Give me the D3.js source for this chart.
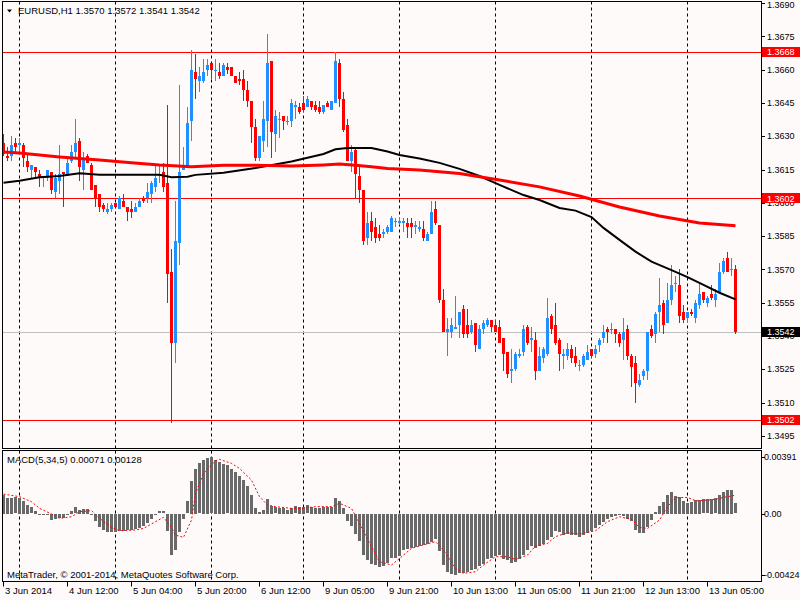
<!DOCTYPE html>
<html>
<head>
<meta charset="utf-8">
<script src="https://cdn.jsdelivr.net/npm/d3@7"></script>
<style>
  body { margin: 0; background: #fffafa; }
  svg { display: block; }
  text { font-family: "Liberation Sans", Arial, sans-serif; font-size: 9.5px; fill: #000; }
  text.num { font-size: 9px; }
</style>
</head>
<body>
<div id="chart"></div>
<script>
// EURUSD H1 candles (first bar = 3 Jun 2014 20:00)
const symbol = "EURUSD,H1";
const open = [
  1.3627,1.3621,1.3621,1.3627,1.3626,1.3626,1.3619,1.3615,1.3616,1.3613,1.3611,1.3611,1.3614,1.3605,1.3610,1.3614,
  1.3612,1.3619,1.3623,1.3628,1.3615,1.3621,1.3617,1.3608,1.3604,1.3599,1.3596,1.3597,1.3600,1.3597,1.3601,1.3598,
  1.3597,1.3596,1.3598,1.3602,1.3602,1.3604,1.3607,1.3612,1.3614,1.3609,1.3569,1.3537,1.3582,1.3615,1.3617,1.3637,
  1.3659,1.3655,1.3655,1.3660,1.3663,1.3660,1.3659,1.3657,1.3661,1.3661,1.3657,1.3656,1.3656,1.3651,1.3646,1.3634,
  1.3620,1.3628,1.3637,1.3664,1.3631,1.3638,1.3639,1.3637,1.3637,1.3643,1.3643,1.3645,1.3643,1.3646,1.3644,1.3643,
  1.3641,1.3645,1.3642,1.3645,1.3663,1.3647,1.3635,1.3619,1.3624,1.3612,1.3606,1.3584,1.3592,1.3589,1.3586,1.3586,
  1.3587,1.3587,1.3592,1.3591,1.3591,1.3591,1.3591,1.3589,1.3588,1.3588,1.3583,1.3586,1.3597,1.3590,1.3556,1.3542,
  1.3542,1.3543,1.3545,1.3552,1.3545,1.3542,1.3546,1.3534,1.3543,1.3545,1.3547,1.3545,1.3544,1.3539,1.3533,1.3524,
  1.3525,1.3531,1.3533,1.3544,1.3538,1.3538,1.3524,1.3530,1.3532,1.3549,1.3545,1.3538,1.3531,1.3531,1.3534,1.3531,
  1.3527,1.3527,1.3529,1.3534,1.3532,1.3536,1.3539,1.3543,1.3543,1.3543,1.3541,1.3538,1.3543,1.3531,1.3528,1.3518,
  1.3522,1.3524,1.3543,1.3541,1.3551,1.3555,1.3546,1.3556,1.3564,1.3563,1.3551,1.3548,1.3551,1.3548,1.3554,1.3560,
  1.3555,1.3559,1.3556,1.3560,1.3569,1.3575,1.3570,1.3570
];
const high = [
  1.3631,1.3625,1.3630,1.3629,1.3629,1.3627,1.3622,1.3617,1.3616,1.3615,1.3612,1.3615,1.3614,1.3613,1.3626,1.3614,
  1.3621,1.3626,1.3638,1.3629,1.3623,1.3622,1.3618,1.3608,1.3604,1.3600,1.3600,1.3600,1.3600,1.3603,1.3604,1.3598,
  1.3601,1.3600,1.3602,1.3603,1.3609,1.3610,1.3617,1.3617,1.3618,1.3644,1.3579,1.3601,1.3653,1.3625,1.3643,1.3669,
  1.3667,1.3661,1.3665,1.3665,1.3663,1.3665,1.3663,1.3663,1.3663,1.3661,1.3657,1.3659,1.3660,1.3655,1.3646,1.3638,
  1.3630,1.3646,1.3676,1.3664,1.3642,1.3641,1.3639,1.3639,1.3647,1.3646,1.3645,1.3648,1.3648,1.3646,1.3646,1.3646,
  1.3644,1.3646,1.3646,1.3668,1.3665,1.3650,1.3638,1.3626,1.3625,1.3616,1.3606,1.3596,1.3596,1.3593,1.3590,1.3588,
  1.3590,1.3594,1.3593,1.3593,1.3593,1.3593,1.3593,1.3592,1.3592,1.3592,1.3587,1.3601,1.3601,1.3590,1.3561,1.3548,
  1.3548,1.3558,1.3551,1.3554,1.3552,1.3547,1.3546,1.3545,1.3547,1.3548,1.3547,1.3547,1.3547,1.3539,1.3533,1.3534,
  1.3533,1.3534,1.3545,1.3545,1.3544,1.3542,1.3535,1.3535,1.3557,1.3550,1.3555,1.3539,1.3534,1.3537,1.3536,1.3535,
  1.3529,1.3532,1.3536,1.3534,1.3536,1.3539,1.3545,1.3544,1.3546,1.3543,1.3542,1.3548,1.3545,1.3532,1.3531,1.3523,
  1.3525,1.3542,1.3545,1.3551,1.3566,1.3556,1.3564,1.3572,1.3567,1.3570,1.3554,1.3551,1.3552,1.3556,1.3564,1.3560,
  1.3558,1.3563,1.3561,1.3573,1.3575,1.3578,1.3575,1.3572
];
const low = [
  1.3621,1.3619,1.3619,1.3623,1.3622,1.3616,1.3614,1.3611,1.3611,1.3607,1.3607,1.3610,1.3604,1.3602,1.3604,1.3598,
  1.3612,1.3618,1.3620,1.3610,1.3606,1.3618,1.3606,1.3598,1.3596,1.3596,1.3595,1.3596,1.3598,1.3597,1.3598,1.3592,
  1.3593,1.3596,1.3598,1.3600,1.3600,1.3600,1.3605,1.3609,1.3605,1.3555,1.3501,1.3528,1.3572,1.3615,1.3616,1.3628,
  1.3647,1.3650,1.3654,1.3657,1.3656,1.3655,1.3656,1.3657,1.3658,1.3657,1.3654,1.3653,1.3646,1.3643,1.3627,1.3619,
  1.3619,1.3623,1.3625,1.3620,1.3623,1.3629,1.3633,1.3635,1.3634,1.3638,1.3640,1.3641,1.3643,1.3642,1.3641,1.3640,
  1.3640,1.3643,1.3642,1.3645,1.3643,1.3632,1.3619,1.3614,1.3602,1.3600,1.3581,1.3581,1.3583,1.3582,1.3583,1.3584,
  1.3586,1.3587,1.3589,1.3590,1.3587,1.3584,1.3584,1.3586,1.3587,1.3583,1.3583,1.3586,1.3590,1.3555,1.3542,1.3531,
  1.3539,1.3543,1.3539,1.3539,1.3539,1.3541,1.3533,1.3534,1.3541,1.3544,1.3542,1.3542,1.3537,1.3524,1.3521,1.3519,
  1.3524,1.3530,1.3531,1.3536,1.3533,1.3520,1.3524,1.3528,1.3531,1.3541,1.3536,1.3524,1.3525,1.3529,1.3528,1.3526,
  1.3524,1.3526,1.3529,1.3530,1.3530,1.3533,1.3537,1.3537,1.3541,1.3537,1.3535,1.3529,1.3529,1.3517,1.3510,1.3517,
  1.3520,1.3520,1.3539,1.3537,1.3542,1.3541,1.3546,1.3554,1.3560,1.3546,1.3546,1.3546,1.3549,1.3546,1.3552,1.3555,
  1.3553,1.3556,1.3553,1.3559,1.3568,1.3569,1.3567,1.3541
];
const close = [
  1.3622,1.3620,1.3626,1.3625,1.3627,1.3620,1.3616,1.3617,1.3614,1.3611,1.3612,1.3615,1.3606,1.3611,1.3613,1.3613,
  1.3618,1.3623,1.3627,1.3616,1.3620,1.3618,1.3606,1.3602,1.3598,1.3597,1.3597,1.3599,1.3598,1.3602,1.3598,1.3596,
  1.3596,1.3598,1.3601,1.3601,1.3605,1.3609,1.3611,1.3613,1.3607,1.3568,1.3537,1.3583,1.3614,1.3617,1.3636,1.3660,
  1.3656,1.3657,1.3659,1.3662,1.3660,1.3660,1.3657,1.3662,1.3660,1.3657,1.3654,1.3655,1.3651,1.3646,1.3634,1.3620,
  1.3630,1.3638,1.3663,1.3632,1.3639,1.3638,1.3637,1.3637,1.3645,1.3644,1.3641,1.3642,1.3647,1.3643,1.3642,1.3641,
  1.3644,1.3643,1.3646,1.3664,1.3647,1.3633,1.3619,1.3623,1.3613,1.3606,1.3583,1.3591,1.3587,1.3584,1.3584,1.3587,
  1.3589,1.3593,1.3592,1.3592,1.3592,1.3589,1.3589,1.3590,1.3589,1.3584,1.3586,1.3596,1.3591,1.3556,1.3542,1.3543,
  1.3545,1.3544,1.3551,1.3541,1.3541,1.3545,1.3536,1.3543,1.3546,1.3547,1.3544,1.3542,1.3537,1.3532,1.3523,1.3525,
  1.3532,1.3532,1.3543,1.3537,1.3539,1.3524,1.3531,1.3534,1.3548,1.3543,1.3537,1.3532,1.3532,1.3534,1.3530,1.3528,
  1.3527,1.3531,1.3533,1.3531,1.3534,1.3538,1.3542,1.3542,1.3543,1.3541,1.3537,1.3542,1.3531,1.3526,1.3519,1.3520,
  1.3524,1.3542,1.3540,1.3550,1.3554,1.3545,1.3556,1.3563,1.3564,1.3549,1.3547,1.3551,1.3550,1.3555,1.3559,1.3556,
  1.3557,1.3557,1.3559,1.3569,1.3574,1.3569,1.3570,1.3542
];

// moving averages, read at selected bars
const maRedBar = [0,4,14,24,32,39,47,55,63,72,80,84,88,92,96,104,114,124,134,144,154,164,174,183];
const maRed = [1.36229,1.36225,1.36207,1.36193,1.36181,1.36171,1.36163,1.36169,1.36169,1.36166,1.36171,1.36175,
  1.36169,1.36163,1.36155,1.36148,1.36132,1.36103,1.36072,1.36031,1.35981,1.35941,1.35909,1.35897];
const maBlackBar = [0,4,9,14,19,24,32,39,42,46,48,55,63,72,80,83,86,92,96,99,104,109,114,119,124,130,134,139,143,
  147,150,154,158,162,167,171,175,179,183];
const maBlack = [1.36091,1.36100,1.36115,1.36121,1.36133,1.36127,1.36127,1.36127,1.36115,1.36118,1.36126,1.36136,
  1.36157,1.36186,1.36220,1.36241,1.36247,1.36247,1.36231,1.36216,1.36200,1.36180,1.36153,1.36121,1.36081,1.36035,
  1.36013,1.35977,1.35965,1.35936,1.35887,1.35833,1.35780,1.35735,1.35697,1.35665,1.35630,1.35595,1.35565];

// horizontal lines
const levels = [1.3668, 1.3602, 1.3502];
const priceTicks = [1.3495,1.3510,1.3525,1.3540,1.3555,1.3570,1.3585,1.3600,1.3615,1.3630,1.3645,1.3660,1.3675,1.3690];

// MACD(5,34,5) main values (x 1e-5), one per bar
const macd = [
  132,109,109,113,109,90,62,44,21,-2,-7,-7,-42,-37,-30,-25,
  -2,21,44,28,32,32,-7,-49,-92,-111,-122,-122,-122,-116,-116,-111,
  -111,-106,-95,-81,-65,-35,-2,16,16,-118,-284,-250,-122,-35,86,229,
  312,349,374,386,391,374,358,344,335,312,289,263,236,194,132,39,
  12,28,102,55,44,39,39,28,39,51,46,46,58,46,39,39,
  46,46,46,109,90,39,-49,-83,-141,-187,-284,-319,-349,-354,-365,-358,
  -342,-307,-303,-290,-252,-240,-233,-229,-224,-217,-210,-194,-176,-257,-356,-402,
  -415,-424,-409,-409,-402,-391,-379,-363,-344,-314,-303,-293,-287,-310,-321,-340,
  -333,-314,-287,-252,-224,-233,-224,-206,-183,-159,-120,-125,-143,-136,-143,-148,
  -159,-148,-132,-118,-95,-79,-55,-37,-21,-16,-9,-12,-32,-49,-109,-132,
  -132,-90,-44,14,53,83,129,153,122,118,90,76,83,95,95,99,
  99,102,106,129,153,164,164,71
].map(v => v / 100000);
// signal line, read at selected bars (x 1e-5)
const sigBar = [0,4,7,9,12,14,17,19,22,24,27,29,33,35,38,40,42,43,45,47,48,50,53,54,57,59,62,64,66,68,72,75,78,82,
  84,87,89,92,94,97,99,102,104,107,108,110,113,115,118,120,123,126,128,131,133,136,138,141,144,148,151,154,157,159,
  161,164,166,168,171,173,174,178,180,183];
const sig = [136,118,83,37,-2,-32,-21,14,21,-32,-95,-118,-113,-102,-55,-25,-95,-148,-164,-44,140,280,367,377,349,314,
  233,118,60,49,37,37,49,49,72,37,-67,-229,-333,-356,-310,-240,-224,-201,-194,-252,-379,-414,-402,-356,-298,-298,-317,
  -287,-224,-206,-159,-132,-141,-118,-55,-21,-39,-95,-102,-44,49,111,113,90,90,99,113,128].map(v => v / 100000);

const months = ["Jan","Feb","Mar","Apr","May","Jun","Jul","Aug","Sep","Oct","Nov","Dec"];

const n = open.length;

// bar times: hourly, no weekend, Friday ends at 22:00
let times = [];
let t = Date.UTC(2014, 5, 3, 20);
while (times.length < n) {
    let d = new Date(t);
    let day = d.getUTCDay(), h = d.getUTCHours();
    if (!(day === 6 || day === 0 || (day === 5 && h === 23))) times.push(d);
    t += 3600 * 1000;
}

let width = 800, height = 600;
let left = 2, right = 761,
    mainTop = 1.5, mainBottom = 448.5,
    subTop = 450.5, subBottom = 581.5;

let svg = d3.select("#chart")
    .append("svg")
    .attr("width", width)
    .attr("height", height);

svg.append("rect")
    .attr("width", width)
    .attr("height", height)
    .style("fill", "#fffafa");

let x = d3.scaleLinear()
    .domain([0, n - 1])
    .range([3, 3 + 4 * (n - 1)]);

let y = d3.scaleLinear()
    .domain([1.34893, 1.36905])
    .range([448.5, 2]);

let ym = d3.scaleLinear()
    .domain([-0.004714, 0.004382])
    .range([581.7, 450.5]);

let px = v => Math.round(v) + 0.5;

// vertical grid at day starts
let dayStarts = d3.range(n).filter(i => times[i].getUTCHours() === 0);
[[mainTop, mainBottom], [subTop, subBottom]].forEach(function (p) {
    svg.append("g")
        .selectAll("line")
        .data(dayStarts)
        .enter()
        .append("line")
        .attr("x1", d => x(d) + 0.5)
        .attr("x2", d => x(d) + 0.5)
        .attr("y1", p[0])
        .attr("y2", p[1])
        .style("stroke", "#000")
        .style("stroke-width", 1)
        .style("stroke-dasharray", "3,3");
});

// bid line and levels
svg.append("line")
    .attr("x1", left).attr("x2", right)
    .attr("y1", px(y(close[n - 1]))).attr("y2", px(y(close[n - 1])))
    .style("stroke", "#c0c0c0");

svg.append("g")
    .selectAll("line")
    .data(levels)
    .enter()
    .append("line")
    .attr("x1", left).attr("x2", right)
    .attr("y1", d => px(y(d))).attr("y2", d => px(y(d)))
    .style("stroke", "#ff0000");

// candles
let bars = d3.range(n);
let candles = svg.append("g");
let col = i => close[i] >= open[i] ? "#1e90ff" : "#ff0000";

candles.selectAll(".wick")
    .data(bars)
    .enter()
    .append("rect")
    .attr("class", "wick")
    .attr("x", i => x(i))
    .attr("width", 1)
    .attr("y", i => Math.round(y(high[i])))
    .attr("height", i => Math.max(1, Math.round(y(low[i])) - Math.round(y(high[i]))))
    .style("fill", col);

candles.selectAll(".body")
    .data(bars)
    .enter()
    .append("rect")
    .attr("class", "body")
    .attr("x", i => x(i) - 1)
    .attr("width", 3)
    .attr("y", i => Math.round(y(Math.max(open[i], close[i]))))
    .attr("height", i => Math.max(1, Math.round(y(Math.min(open[i], close[i]))) - Math.round(y(Math.max(open[i], close[i])))))
    .style("fill", col);

// moving averages
let maLine = d3.line()
    .x(d => x(d[0]) + 0.5)
    .y(d => y(d[1]));

svg.append("path")
    .datum(maBlackBar.map((b, k) => [b, maBlack[k]]))
    .attr("d", maLine)
    .style("fill", "none")
    .style("stroke", "#000")
    .style("stroke-width", 2);

svg.append("path")
    .datum(maRedBar.map((b, k) => [b, maRed[k]]))
    .attr("d", maLine)
    .style("fill", "none")
    .style("stroke", "#ff0000")
    .style("stroke-width", 3);

// MACD histogram
svg.append("g")
    .selectAll("rect")
    .data(bars)
    .enter()
    .append("rect")
    .attr("x", i => x(i) - 1)
    .attr("width", 3)
    .attr("y", i => Math.round(Math.min(ym(0), ym(macd[i]))))
    .attr("height", i => Math.max(1, Math.round(Math.abs(ym(macd[i]) - ym(0)))))
    .style("fill", "#696969");

svg.append("path")
    .datum(sigBar.map((b, k) => [b, sig[k]]))
    .attr("d", d3.line().x(d => x(d[0]) + 0.5).y(d => ym(d[1])))
    .style("fill", "none")
    .style("stroke", "#ff0000")
    .style("stroke-width", 1)
    .style("stroke-dasharray", "2,2");

// frames
[[mainTop, mainBottom], [subTop, subBottom]].forEach(function (p) {
    svg.append("rect")
        .attr("x", left + 0.5)
        .attr("y", p[0])
        .attr("width", right - left)
        .attr("height", p[1] - p[0])
        .style("fill", "none")
        .style("stroke", "#000")
        .style("stroke-width", 1);
});

// price axis
let pAxis = svg.append("g");
pAxis.selectAll("line")
    .data(priceTicks)
    .enter()
    .append("line")
    .attr("x1", right).attr("x2", right + 4)
    .attr("y1", d => px(y(d))).attr("y2", d => px(y(d)))
    .style("stroke", "#000");
pAxis.selectAll("text")
    .data(priceTicks)
    .enter()
    .append("text")
    .attr("class", "num")
    .attr("x", right + 6)
    .attr("y", d => Math.max(y(d), 4.5))
    .attr("dy", "0.35em")
    .text(d => d.toFixed(4));

// price labels on the axis
let tags = levels.map(v => ({ v: v, c: "#ff0000" }));
tags.push({ v: close[n - 1], c: "#000" });
let tag = svg.append("g")
    .selectAll("g")
    .data(tags)
    .enter()
    .append("g");
tag.append("rect")
    .attr("x", right + 1)
    .attr("width", width - right - 1)
    .attr("y", d => Math.round(y(d.v)) - 5)
    .attr("height", 10)
    .style("fill", d => d.c);
tag.append("text")
    .attr("class", "num")
    .attr("x", right + 6)
    .attr("y", d => y(d.v))
    .attr("dy", "0.35em")
    .style("fill", "#fff")
    .text(d => d.v.toFixed(4));

// MACD axis
let mTicks = [d3.max(macd), 0, d3.min(macd)];
let mAxis = svg.append("g");
mAxis.selectAll("line")
    .data(mTicks)
    .enter()
    .append("line")
    .attr("x1", right).attr("x2", right + 4)
    .attr("y1", d => px(ym(d))).attr("y2", d => px(ym(d)))
    .style("stroke", "#000");
mAxis.selectAll("text")
    .data(mTicks)
    .enter()
    .append("text")
    .attr("class", "num")
    .attr("x", right + 3)
    .attr("y", d => ym(d))
    .attr("dy", "0.35em")
    .text(d => d === 0 ? "0.00" : d.toFixed(5));

// time axis
let labelBars = d3.range(0, n, 16);
let tAxis = svg.append("g");
tAxis.selectAll("line")
    .data(labelBars)
    .enter()
    .append("line")
    .attr("x1", i => x(i) + 0.5).attr("x2", i => x(i) + 0.5)
    .attr("y1", subBottom).attr("y2", subBottom + 5)
    .style("stroke", "#000");
tAxis.selectAll("text")
    .data(labelBars)
    .enter()
    .append("text")
    .attr("x", i => x(i) + 2)
    .attr("y", 591)
    .attr("dy", "0.35em")
    .text(function (i) {
        let d = times[i];
        let day = d.getUTCDate() + " " + months[d.getUTCMonth()];
        if (i === 0) return day + " " + d.getUTCFullYear();
        return day + " " + String(d.getUTCHours()).padStart(2, "0") + ":00";
    });

// header and captions
svg.append("path")
    .attr("d", "M7,9.5 L12,9.5 L9.5,12.5 Z")
    .style("fill", "#000");
svg.append("text")
    .attr("x", 18)
    .attr("y", 11)
    .attr("dy", "0.35em")
    .text(symbol + "  " + [open[n - 1], high[n - 1], low[n - 1], close[n - 1]].map(v => v.toFixed(4)).join(" "));

svg.append("text")
    .attr("x", 7)
    .attr("y", 459.5)
    .attr("dy", "0.35em")
    .text("MACD(5,34,5) " + macd[n - 1].toFixed(5) + " " + sig[sig.length - 1].toFixed(5));

svg.append("text")
    .attr("x", 7)
    .attr("y", 575)
    .attr("dy", "0.35em")
    .text("MetaTrader, \u00a9 2001-2014, MetaQuotes Software Corp.");
</script>
</body>
</html>
